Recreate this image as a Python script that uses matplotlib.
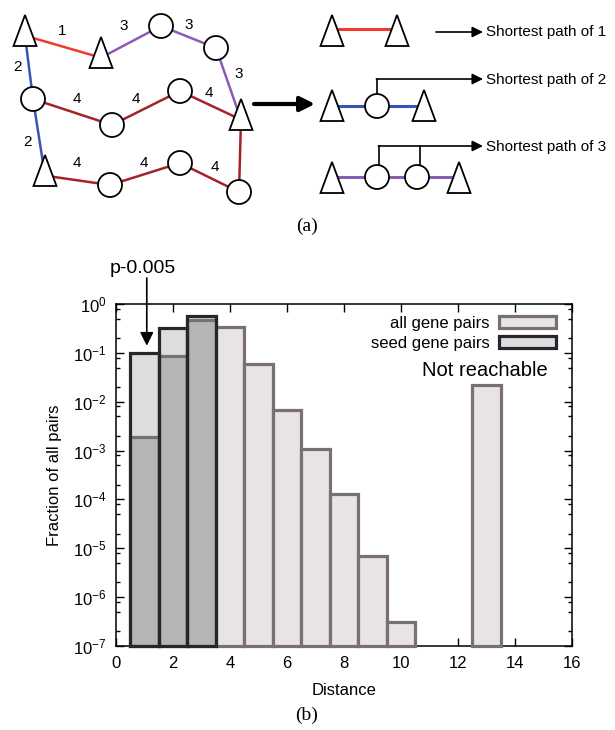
import matplotlib
matplotlib.use("Agg")
import matplotlib.pyplot as plt
import numpy as np
from matplotlib.patches import Polygon, Circle, Patch
from matplotlib.ticker import LogLocator, NullFormatter

plt.rcParams['font.family'] = ['Liberation Sans', 'DejaVu Sans']

# ---------------- panel (b) data ----------------
distance = [1, 2, 3, 4, 5, 6, 7, 8, 9, 10, 13]
all_pairs = [1.9e-3, 0.085, 0.47, 0.34, 0.059, 6.9e-3, 1.1e-3, 1.3e-4, 6.8e-6, 3.1e-7, 0.022]
seed_distance = [1, 2, 3]
seed_pairs = [0.098, 0.33, 0.58]
xticks = [0, 2, 4, 6, 8, 10, 12, 14, 16]
ymin = 1e-7

# ---------------- panel (a) diagram (pixel coords) ----------------
# triangles: apex x, apex y ; circles: centre x, centre y
tri_nodes = {'T1': (25, 15), 'T2': (101, 37), 'T3': (241, 99), 'T4': (45, 155)}
circ_nodes = {'C1': (161, 26), 'C2': (216, 48), 'C3': (33, 99), 'C4': (112, 125),
              'C5': (180, 91), 'C6': (110, 185), 'C7': (180, 163), 'C8': (239, 192)}
edges = [('T1', 'T2', 'red'), ('T2', 'C1', 'purple'), ('C1', 'C2', 'purple'),
         ('C2', 'T3', 'purple'), ('T1', 'C3', 'blue'), ('C3', 'T4', 'blue'),
         ('C3', 'C4', 'dred'), ('C4', 'C5', 'dred'), ('C5', 'T3', 'dred'),
         ('T4', 'C6', 'dred'), ('C6', 'C7', 'dred'), ('C7', 'C8', 'dred'),
         ('C8', 'T3', 'dred')]
edge_labels = [(62, 31, '1'), (124, 26, '3'), (189, 25, '3'), (239, 74, '3'),
               (18, 67, '2'), (27, 142, '2'), (77, 99, '4'), (136, 99, '4'),
               (209, 93, '4'), (77, 163, '4'), (144, 163, '4'), (215, 167, '4')]
# right hand side: shortest paths
path_rows = [
    {'tris': [332, 397], 'apex': 15, 'circles': [], 'line_y': 29, 'color': 'red'},
    {'tris': [332, 424], 'apex': 90, 'circles': [377], 'line_y': 106, 'color': 'blue'},
    {'tris': [332, 459], 'apex': 162, 'circles': [377, 417], 'line_y': 177, 'color': 'purple'},
]
path_texts = ['Shortest path of 1', 'Shortest path of 2', 'Shortest path of 3']

colors = {'red': '#ee3b2b', 'purple': '#8a5db3', 'blue': '#3a54b4', 'dred': '#a3232a'}
tri_w, tri_h, rad = 23, 31, 12

fig = plt.figure(figsize=(6.15, 7.30), dpi=100)

# ---------- (a) ----------
axa = fig.add_axes([0, 0, 1, 1])
axa.set_xlim(0, 615)
axa.set_ylim(730, 0)
axa.axis('off')


def anchor(name):
    if name in tri_nodes:
        x, y = tri_nodes[name]
        return x, y + tri_h * 2 / 3
    return circ_nodes[name]


def draw_tri(x, y):
    axa.add_patch(Polygon([(x, y), (x - tri_w / 2, y + tri_h), (x + tri_w / 2, y + tri_h)],
                          closed=True, fc='white', ec='black', lw=1.3, zorder=5))


def draw_circ(x, y):
    axa.add_patch(Circle((x, y), rad, fc='white', ec='black', lw=1.3, zorder=5))


for a, b, c in edges:
    xa, ya = anchor(a)
    xb, yb = anchor(b)
    axa.plot([xa, xb], [ya, yb], color=colors[c], lw=1.8, zorder=2)
for n in tri_nodes:
    draw_tri(*tri_nodes[n])
for n in circ_nodes:
    draw_circ(*circ_nodes[n])
for x, y, s in edge_labels:
    axa.text(x, y, s, fontsize=11, ha='center', va='center')

# big arrow
axa.annotate('', xy=(315, 104), xytext=(254, 104),
             arrowprops=dict(arrowstyle='-|>', color='black', lw=3, mutation_scale=22,
                             shrinkA=0, shrinkB=0))

for row in path_rows:
    ly = row['line_y']
    xs = row['tris'] + row['circles']
    axa.plot([min(xs), max(xs)], [ly, ly], color=colors[row['color']], lw=2.2, zorder=2)
    for x in row['tris']:
        draw_tri(x, row['apex'])
    for x in row['circles']:
        draw_circ(x, ly)

# connectors to the captions
arrow_kw = dict(arrowstyle='-|>', color='black', lw=1.2, mutation_scale=16, shrinkA=0, shrinkB=0)
axa.annotate('', xy=(483, 32), xytext=(436, 32), arrowprops=arrow_kw)
axa.plot([377, 377], [95, 79], color='black', lw=1.2)
axa.annotate('', xy=(483, 79), xytext=(376.4, 79), arrowprops=arrow_kw)
axa.plot([379, 379], [165, 146], color='black', lw=1.2)
axa.plot([420, 420], [165, 146], color='black', lw=1.2)
axa.annotate('', xy=(483, 146), xytext=(378.4, 146), arrowprops=arrow_kw)
for y, s in zip([32, 80, 147], path_texts):
    axa.text(486, y, s, fontsize=11, ha='left', va='center')

axa.text(307, 226, '(a)', fontsize=14, ha='center', va='center', family='Liberation Serif')
axa.text(307, 715, '(b)', fontsize=14, ha='center', va='center', family='Liberation Serif')

# ---------- (b) ----------
all_face = '#e8e4e4'
all_edge = '#797171'
seed_face = '#dcdddd'
seed_edge = '#26262c'
overlap_face = '#b5b5b5'

ax = fig.add_axes([116 / 615, 1 - 646 / 730, 456 / 615, 342 / 730])
ax.set_yscale('log')
ax.set_xlim(0, 16)
ax.set_ylim(ymin, 1)

seed_h = np.array(seed_pairs) - ymin
all_h = np.array(all_pairs) - ymin
faces = [overlap_face if d in seed_distance else all_face for d in distance]

ax.bar(seed_distance, seed_h, bottom=ymin, width=1, color=seed_face, edgecolor='none', zorder=2)
ax.bar(distance, all_h, bottom=ymin, width=1, color=faces, edgecolor=all_edge, lw=2.3,
       zorder=3, clip_on=False)
ax.bar(seed_distance, seed_h, bottom=ymin, width=1, facecolor='none', edgecolor=seed_edge,
       lw=2.3, zorder=4, clip_on=False)

ax.set_xticks(xticks)
ax.yaxis.set_major_locator(LogLocator(base=10, numticks=20))
ax.yaxis.set_minor_locator(LogLocator(base=10, subs=(2, 5, 8), numticks=20))
ax.yaxis.set_minor_formatter(NullFormatter())
ax.tick_params(which='both', direction='in', top=True, right=True, labelsize=12)
ax.tick_params(which='major', length=6, width=1, pad=7)
ax.tick_params(which='minor', length=3, width=1)
ax.tick_params(axis='x', which='minor', bottom=False, top=False)
for s in ax.spines.values():
    s.set_linewidth(1.1)

ax.set_xlabel('Distance', fontsize=12, labelpad=9)
ax.set_ylabel('Fraction of all pairs', fontsize=12, labelpad=8)

handles = [Patch(facecolor=all_face, edgecolor=all_edge, lw=2.3),
           Patch(facecolor=seed_face, edgecolor=seed_edge, lw=2.3)]
ax.legend(handles, ['all gene pairs', 'seed gene pairs'], loc='upper right',
          bbox_to_anchor=(0.965, 0.965), frameon=False, markerfirst=False,
          fontsize=12, handlelength=3.4, handleheight=0.7, handletextpad=0.6,
          labelspacing=0.3, borderpad=0, borderaxespad=0)

ax.text(12.95, 0.043, 'Not reachable', fontsize=14.5, ha='center', va='center')
ax.text(0.95, 5.4, 'p-0.005', fontsize=14, ha='center', va='center', clip_on=False)
ax.annotate('', xy=(1.08, 0.14), xytext=(1.08, 3.4), annotation_clip=False,
            arrowprops=dict(arrowstyle='-|>', color='black', lw=1.2, mutation_scale=20,
                            shrinkA=0, shrinkB=0))

fig.savefig('out.png', dpi=100)
